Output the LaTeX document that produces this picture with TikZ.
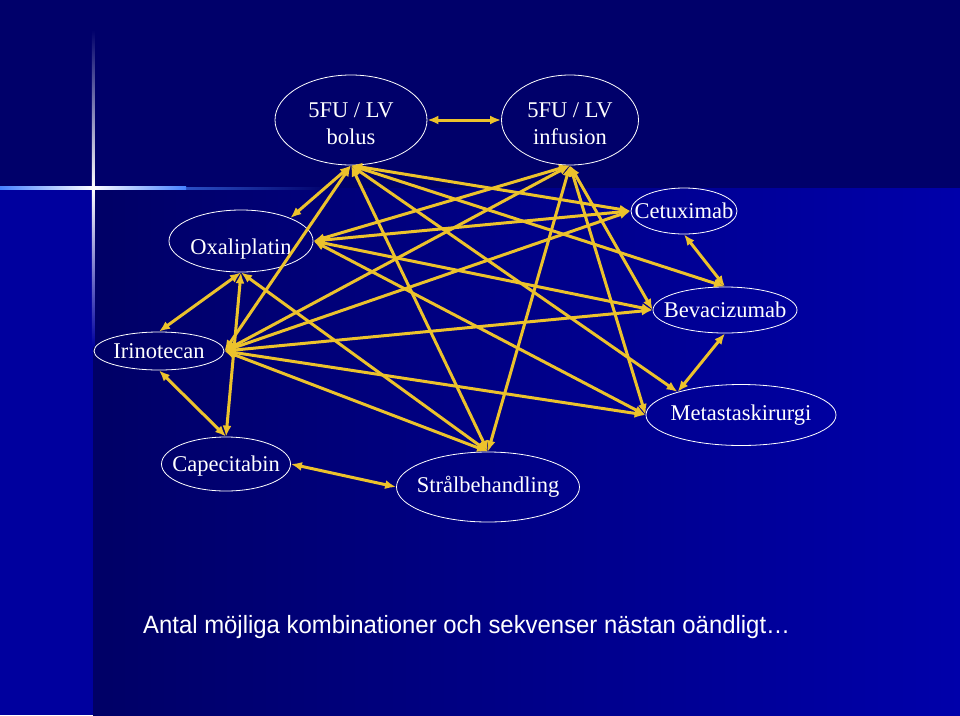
\documentclass[tikz,border=0pt]{standalone}
\usepackage{fontspec}
\usepackage{graphicx}
\setmainfont{Liberation Serif}
\newfontfamily\notefont{Liberation Sans}
\usepackage{tikz}
\usetikzlibrary{
    arrows.meta,
    shapes.geometric
}
\definecolor{navytop}{RGB}{0,0,106}
\definecolor{navyleft}{RGB}{0,0,158}
\definecolor{paneldark}{RGB}{0,0,102}
\definecolor{panellight}{RGB}{0,0,170}
\definecolor{flareblue}{RGB}{70,130,255}
\definecolor{arrowgold}{RGB}{236,194,44}
\tikzset
{
  drug/.style={draw=white,line width=0.8pt,ellipse,inner sep=-20pt,text=white,font=\fontsize{22.5}{27}\selectfont,align=center},
  link/.style={draw=arrowgold,line width=3pt,{Latex[length=11pt,width=9pt]}-{Latex[length=11pt,width=9pt]}}
}

\begin{document}
\begin{tikzpicture}[x=1pt,y=-1pt]
        \useasboundingbox (0,0) rectangle (960,715);

        % Background panels
        \fill[navytop] (0,0) rectangle (960,188);
        \fill[navyleft] (0,188) rectangle (93,715);
        \shade[left color=paneldark,right color=panellight] (93,188) rectangle (960,715);

        % Light flare
        \shade[left color=flareblue,right color=navytop] (93,187.2) rectangle (330,189);
        \shade[left color=flareblue,right color=flareblue,middle color=white] (0,186.8) rectangle (186,189.4);
        \shade[top color=navytop,bottom color=navyleft,middle color=white] (91.8,30) rectangle (94.4,346);

        % Treatments
        \node[drug,minimum width=152pt,minimum height=90pt] (bolus) at (351,120) {\rule{0pt}{23pt}5FU / LV\\bolus};
        \node[drug,minimum width=137pt,minimum height=90pt] (infusion) at (570,120) {\rule{0pt}{23pt}5FU / LV\\infusion};
        \node[drug,minimum width=144pt,minimum height=62pt] (oxa) at (241,241) {\rule{0pt}{31pt}Oxaliplatin};
        \node[drug,minimum width=106pt,minimum height=46pt] (cetux) at (684,211) {Cetuximab};
        \node[drug,minimum width=144pt,minimum height=46pt] (bevac) at (725,310) {Bevacizumab};
        \node[drug,minimum width=130pt,minimum height=38pt] (irino) at (159,351) {Irinotecan};
        \node[drug,minimum width=190pt,minimum height=61pt] (metast) at (741,415) {Metastaskirurgi};
        \node[drug,minimum width=129pt,minimum height=54pt] (capec) at (226,464) {\rule{0pt}{19pt}Capecitabin};
        \node[drug,minimum width=183pt,minimum height=70pt] (stral) at (488,487) {Strålbehandling};

        % Combinations from 5FU/LV bolus
        \draw[link] (bolus.east) -- (infusion.west);
        \draw[link] (bolus.south) -- (oxa.25);
        \draw[link] (bolus.south) -- (irino.east);
        \draw[link] (bolus.south) -- (cetux.west);
        \draw[link] (bolus.south) -- (bevac.north);
        \draw[link] (bolus.south) -- (metast.160);
        \draw[link] (bolus.south) -- (stral.north);

        % Combinations from 5FU/LV infusion
        \draw[link] (infusion.south) -- (oxa.east);
        \draw[link] (infusion.south) -- (irino.east);
        \draw[link] (infusion.south) -- (bevac.west);
        \draw[link] (infusion.south) -- (metast.west);
        \draw[link] (infusion.south) -- (stral.north);

        % Combinations from Oxaliplatin
        \draw[link] (oxa.east) -- (cetux.west);
        \draw[link] (oxa.east) -- (bevac.west);
        \draw[link] (oxa.east) -- (metast.west);
        \draw[link] (oxa.south) -- (irino.north);
        \draw[link] (oxa.south) -- (capec.north);
        \draw[link] (oxa.south) -- (stral.north);

        % Combinations from Irinotecan
        \draw[link] (irino.east) -- (cetux.west);
        \draw[link] (irino.east) -- (bevac.west);
        \draw[link] (irino.east) -- (metast.west);
        \draw[link] (irino.east) -- (stral.north);
        \draw[link] (irino.south) -- (capec.north);

        % Remaining pairs
        \draw[link] (capec.east) -- (stral.west);
        \draw[link] (cetux.south) -- (bevac.north);
        \draw[link] (bevac.south) -- (metast.160);

        % Footnote
        \node[text=white,inner sep=0pt,anchor=base west,font=\notefont\fontsize{25}{30}\selectfont] (note) at (143,633) {\scalebox{0.956}[1]{Antal möjliga kombinationer och sekvenser nästan oändligt…}};
    \end{tikzpicture}
\end{document}
